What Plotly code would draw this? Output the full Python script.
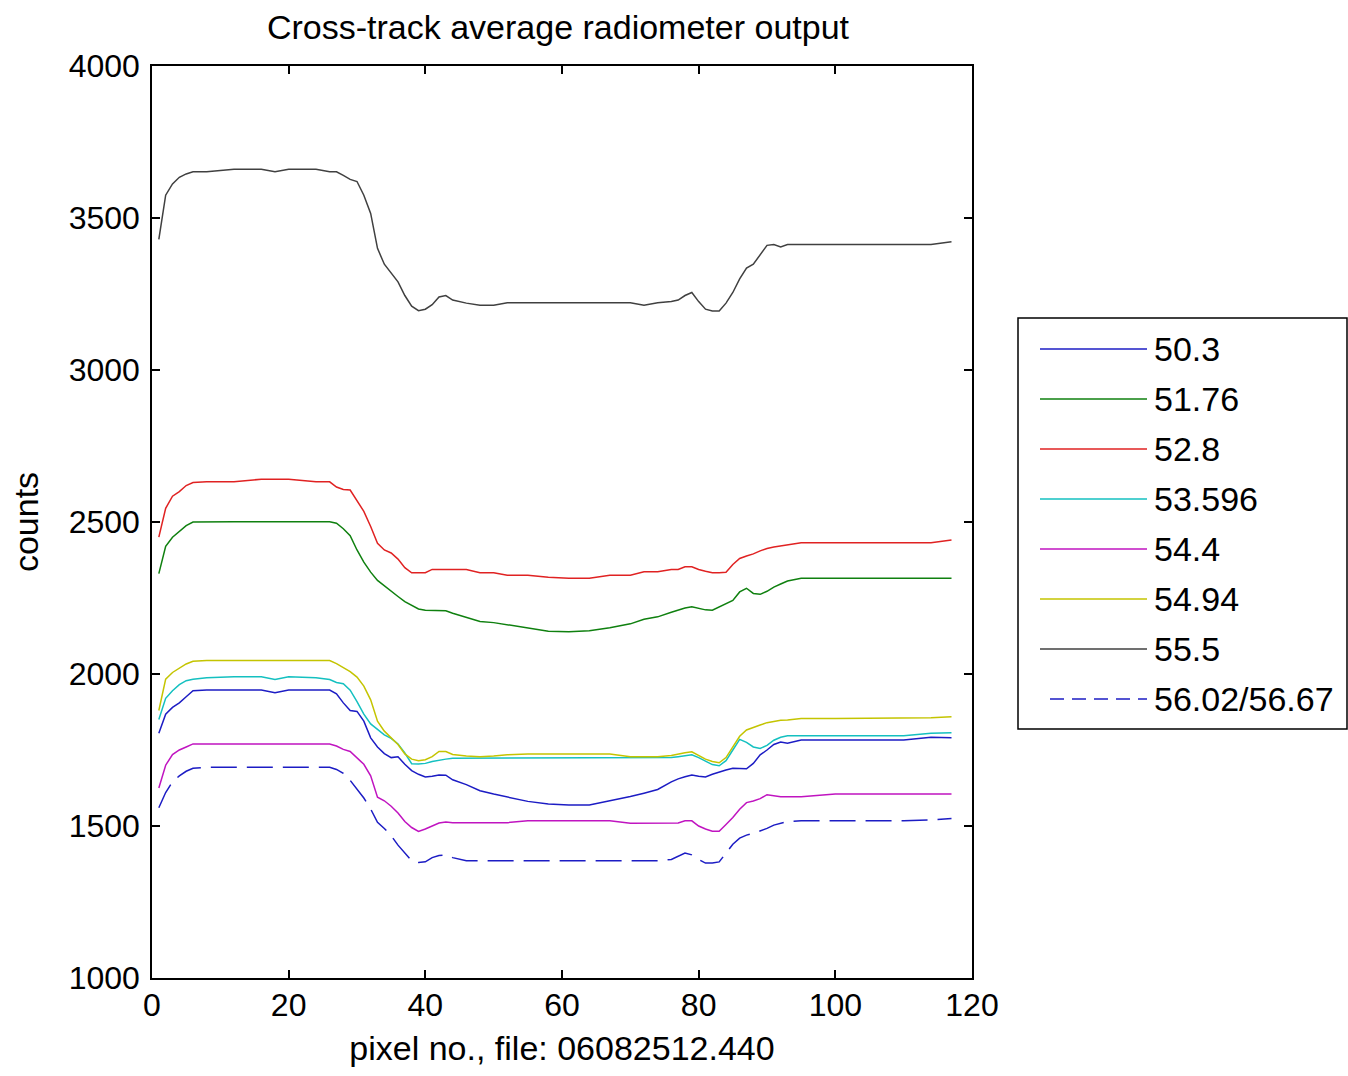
import plotly.graph_objects as go

# Cross-track pixel positions at which each channel was sampled
pixel = [1, 2, 3, 4, 5, 6, 8, 12, 16, 18, 20, 24, 26, 27, 28, 29, 30, 31, 32, 33,
         34, 35, 36, 37, 38, 39, 40, 41, 42, 43, 44, 46, 48, 50, 52, 55, 58, 61, 64, 67,
         70, 72, 74, 76, 77, 78, 79, 80, 81, 82, 83, 84, 85, 86, 87, 88, 89, 90, 91, 92,
         93, 95, 100, 105, 110, 114, 117]

# Average counts per channel (GHz labels)
ch_50_3 = [1805, 1868, 1890, 1905, 1925, 1945, 1947, 1947, 1947, 1938, 1947, 1947, 1947, 1935, 1905, 1880, 1877, 1845, 1790, 1760,
           1738, 1725, 1728, 1703, 1682, 1670, 1661, 1664, 1668, 1667, 1652, 1636, 1616, 1605, 1596, 1581, 1572, 1569, 1569, 1582,
           1597, 1608, 1620, 1645, 1655, 1662, 1668, 1664, 1661, 1670, 1678, 1684, 1690, 1690, 1688, 1706, 1734, 1750, 1768, 1776,
           1772, 1783, 1783, 1783, 1783, 1792, 1790]
ch_51_76 = [2330, 2420, 2450, 2470, 2488, 2500, 2501, 2501, 2501, 2501, 2501, 2501, 2501, 2496, 2478, 2455, 2408, 2368, 2335, 2308,
            2290, 2270, 2255, 2238, 2225, 2214, 2210, 2209, 2208, 2208, 2200, 2186, 2173, 2169, 2162, 2152, 2141, 2139, 2142, 2152,
            2165, 2180, 2188, 2203, 2210, 2217, 2221, 2215, 2211, 2210, 2220, 2232, 2242, 2270, 2282, 2265, 2262, 2272, 2286, 2296,
            2306, 2315, 2315, 2315, 2315, 2315, 2315]
ch_52_8 = [2450, 2545, 2585, 2600, 2620, 2630, 2632, 2632, 2641, 2641, 2641, 2632, 2632, 2615, 2607, 2605, 2572, 2535, 2485, 2430,
           2408, 2398, 2378, 2350, 2333, 2333, 2333, 2344, 2344, 2344, 2344, 2344, 2333, 2333, 2325, 2325, 2318, 2315, 2315, 2325,
           2325, 2336, 2336, 2344, 2344, 2353, 2353, 2344, 2338, 2333, 2333, 2335, 2360, 2380, 2388, 2395, 2405, 2413, 2418, 2422,
           2426, 2432, 2432, 2432, 2432, 2432, 2441]
ch_53_596 = [1850, 1920, 1945, 1965, 1978, 1983, 1988, 1991, 1991, 1982, 1991, 1988, 1982, 1972, 1968, 1947, 1909, 1868, 1836, 1818,
             1800, 1788, 1770, 1740, 1705, 1704, 1706, 1712, 1717, 1720, 1723, 1723, 1723, 1723, 1723, 1723, 1723, 1723, 1723, 1723,
             1723, 1723, 1723, 1725, 1728, 1731, 1734, 1725, 1713, 1702, 1698, 1715, 1750, 1785, 1775, 1760, 1755, 1765, 1782, 1792,
             1797, 1797, 1797, 1797, 1797, 1805, 1807]
ch_54_4 = [1625, 1700, 1735, 1750, 1760, 1770, 1770, 1770, 1770, 1770, 1770, 1770, 1770, 1763, 1752, 1745, 1725, 1703, 1665, 1595,
           1583, 1565, 1543, 1515, 1495, 1482, 1490, 1500, 1510, 1513, 1511, 1511, 1511, 1511, 1511, 1517, 1517, 1517, 1517, 1517,
           1509, 1509, 1509, 1509, 1510, 1517, 1517, 1500, 1490, 1483, 1483, 1505, 1528, 1555, 1577, 1582, 1590, 1603, 1600, 1596,
           1596, 1596, 1605, 1605, 1605, 1605, 1605]
ch_54_94 = [1880, 1983, 2005, 2020, 2033, 2042, 2044, 2044, 2044, 2044, 2044, 2044, 2044, 2034, 2020, 2008, 1990, 1960, 1915, 1845,
            1812, 1790, 1768, 1737, 1720, 1715, 1718, 1728, 1745, 1745, 1735, 1730, 1728, 1730, 1734, 1737, 1737, 1737, 1737, 1737,
            1728, 1728, 1728, 1732, 1737, 1741, 1744, 1732, 1720, 1712, 1708, 1725, 1760, 1795, 1816, 1825, 1832, 1840, 1845, 1848,
            1849, 1854, 1854, 1854, 1854, 1856, 1859]
ch_55_5 = [3430, 3575, 3612, 3634, 3645, 3652, 3652, 3660, 3660, 3652, 3660, 3660, 3652, 3652, 3640, 3627, 3620, 3575, 3515, 3400,
           3348, 3318, 3290, 3245, 3210, 3195, 3200, 3215, 3240, 3245, 3230, 3220, 3213, 3213, 3221, 3221, 3221, 3221, 3221, 3221,
           3221, 3213, 3221, 3225, 3230, 3245, 3255, 3225, 3200, 3194, 3194, 3220, 3255, 3300, 3335, 3348, 3380, 3410, 3413, 3405,
           3413, 3413, 3413, 3413, 3413, 3413, 3422]
ch_56_02 = [1560, 1610, 1645, 1665, 1680, 1690, 1693, 1693, 1693, 1693, 1693, 1693, 1693, 1686, 1673, 1650, 1620, 1592, 1556, 1512,
            1492, 1468, 1437, 1410, 1386, 1380, 1382, 1396, 1403, 1405, 1396, 1386, 1386, 1386, 1386, 1386, 1386, 1386, 1386, 1386,
            1386, 1386, 1386, 1390, 1400, 1411, 1405, 1390, 1378, 1378, 1382, 1410, 1440, 1460, 1470, 1476, 1484, 1492, 1503, 1510,
            1515, 1517, 1517, 1517, 1517, 1520, 1525]

names = ["50.3", "51.76", "52.8", "53.596", "54.4", "54.94", "55.5", "56.02/56.67"]
series = [ch_50_3, ch_51_76, ch_52_8, ch_53_596, ch_54_4, ch_54_94, ch_55_5, ch_56_02]
colors = ["#1c1cc4", "#0f800f", "#e02222", "#14c0c0", "#c014c0", "#c4c400", "#404040", "#1c1cc4"]
dashes = ["solid"] * 7 + ["26px,10px"]

x_ticks = [0, 20, 40, 60, 80, 100, 120]
y_ticks = [1000, 1500, 2000, 2500, 3000, 3500, 4000]

FONT = "Liberation Sans, Arial, sans-serif"
TICK_SIZE = 32
TEXT_SIZE = 34
W, H = 1348, 1076
L, R, T, B = 152, 376, 66, 98
PW, PH = W - L - R, H - T - B

def px_x(p):
    return (p - L) / PW

def px_y(p):
    return (H - B - p) / PH

fig = go.Figure()
for name, vals, col, dsh in zip(names, series, colors, dashes):
    assert len(vals) == len(pixel)
    fig.add_trace(go.Scatter(x=pixel, y=vals, mode="lines", name=name,
                             line=dict(color=col, width=1.5, dash=dsh),
                             showlegend=False))

axis_common = dict(showgrid=False, zeroline=False, showline=True, linecolor="black",
                   linewidth=1.5, mirror="ticks", ticks="inside", ticklen=8,
                   tickwidth=1.5, tickcolor="black",
                   tickfont=dict(family=FONT, size=TICK_SIZE, color="black"))

fig.update_layout(
    width=W, height=H,
    margin=dict(l=L, r=R, t=T, b=B),
    paper_bgcolor="white", plot_bgcolor="white",
    title=dict(text="Cross-track average radiometer output",
               font=dict(family=FONT, size=TEXT_SIZE, color="black"),
               x=(558 - L) / PW, xref="paper", xanchor="center",
               y=1 - 27 / H, yref="container", yanchor="middle"),
    xaxis=dict(range=[0, 120], tickvals=x_ticks, ticktext=[str(v) for v in x_ticks],
               title=dict(text="pixel no., file: 06082512.440",
                          font=dict(family=FONT, size=TEXT_SIZE, color="black"), standoff=14),
               ticklabelstandoff=-2,
               **axis_common),
    yaxis=dict(range=[1000, 4000], tickvals=y_ticks, ticktext=[str(v) for v in y_ticks],
               title=dict(text="counts", font=dict(family=FONT, size=TEXT_SIZE, color="black"),
                          standoff=20),
               ticklabelstandoff=4,
               **axis_common),
)

# Legend box drawn in paper space
shapes = [dict(type="rect", xref="paper", yref="paper",
               x0=px_x(1018), x1=px_x(1347), y0=px_y(729), y1=px_y(318),
               line=dict(color="black", width=1.5), fillcolor="white", layer="above")]
annotations = []
for i, (name, col, dsh) in enumerate(zip(names, colors, dashes)):
    yy = 349 + 50 * i
    x_start = 1050 if dsh != "solid" else 1040
    shapes.append(dict(type="line", xref="paper", yref="paper",
                       x0=px_x(x_start), x1=px_x(1147), y0=px_y(yy), y1=px_y(yy),
                       line=dict(color=col, width=1.5,
                                 dash="14px,8px" if dsh != "solid" else "solid"),
                       layer="above"))
    annotations.append(dict(text=name, xref="paper", yref="paper",
                            x=px_x(1152), y=px_y(yy), xanchor="left", yanchor="middle",
                            showarrow=False,
                            font=dict(family=FONT, size=TEXT_SIZE, color="black")))
fig.update_layout(shapes=shapes, annotations=annotations)

fig.write_html("out.html")
